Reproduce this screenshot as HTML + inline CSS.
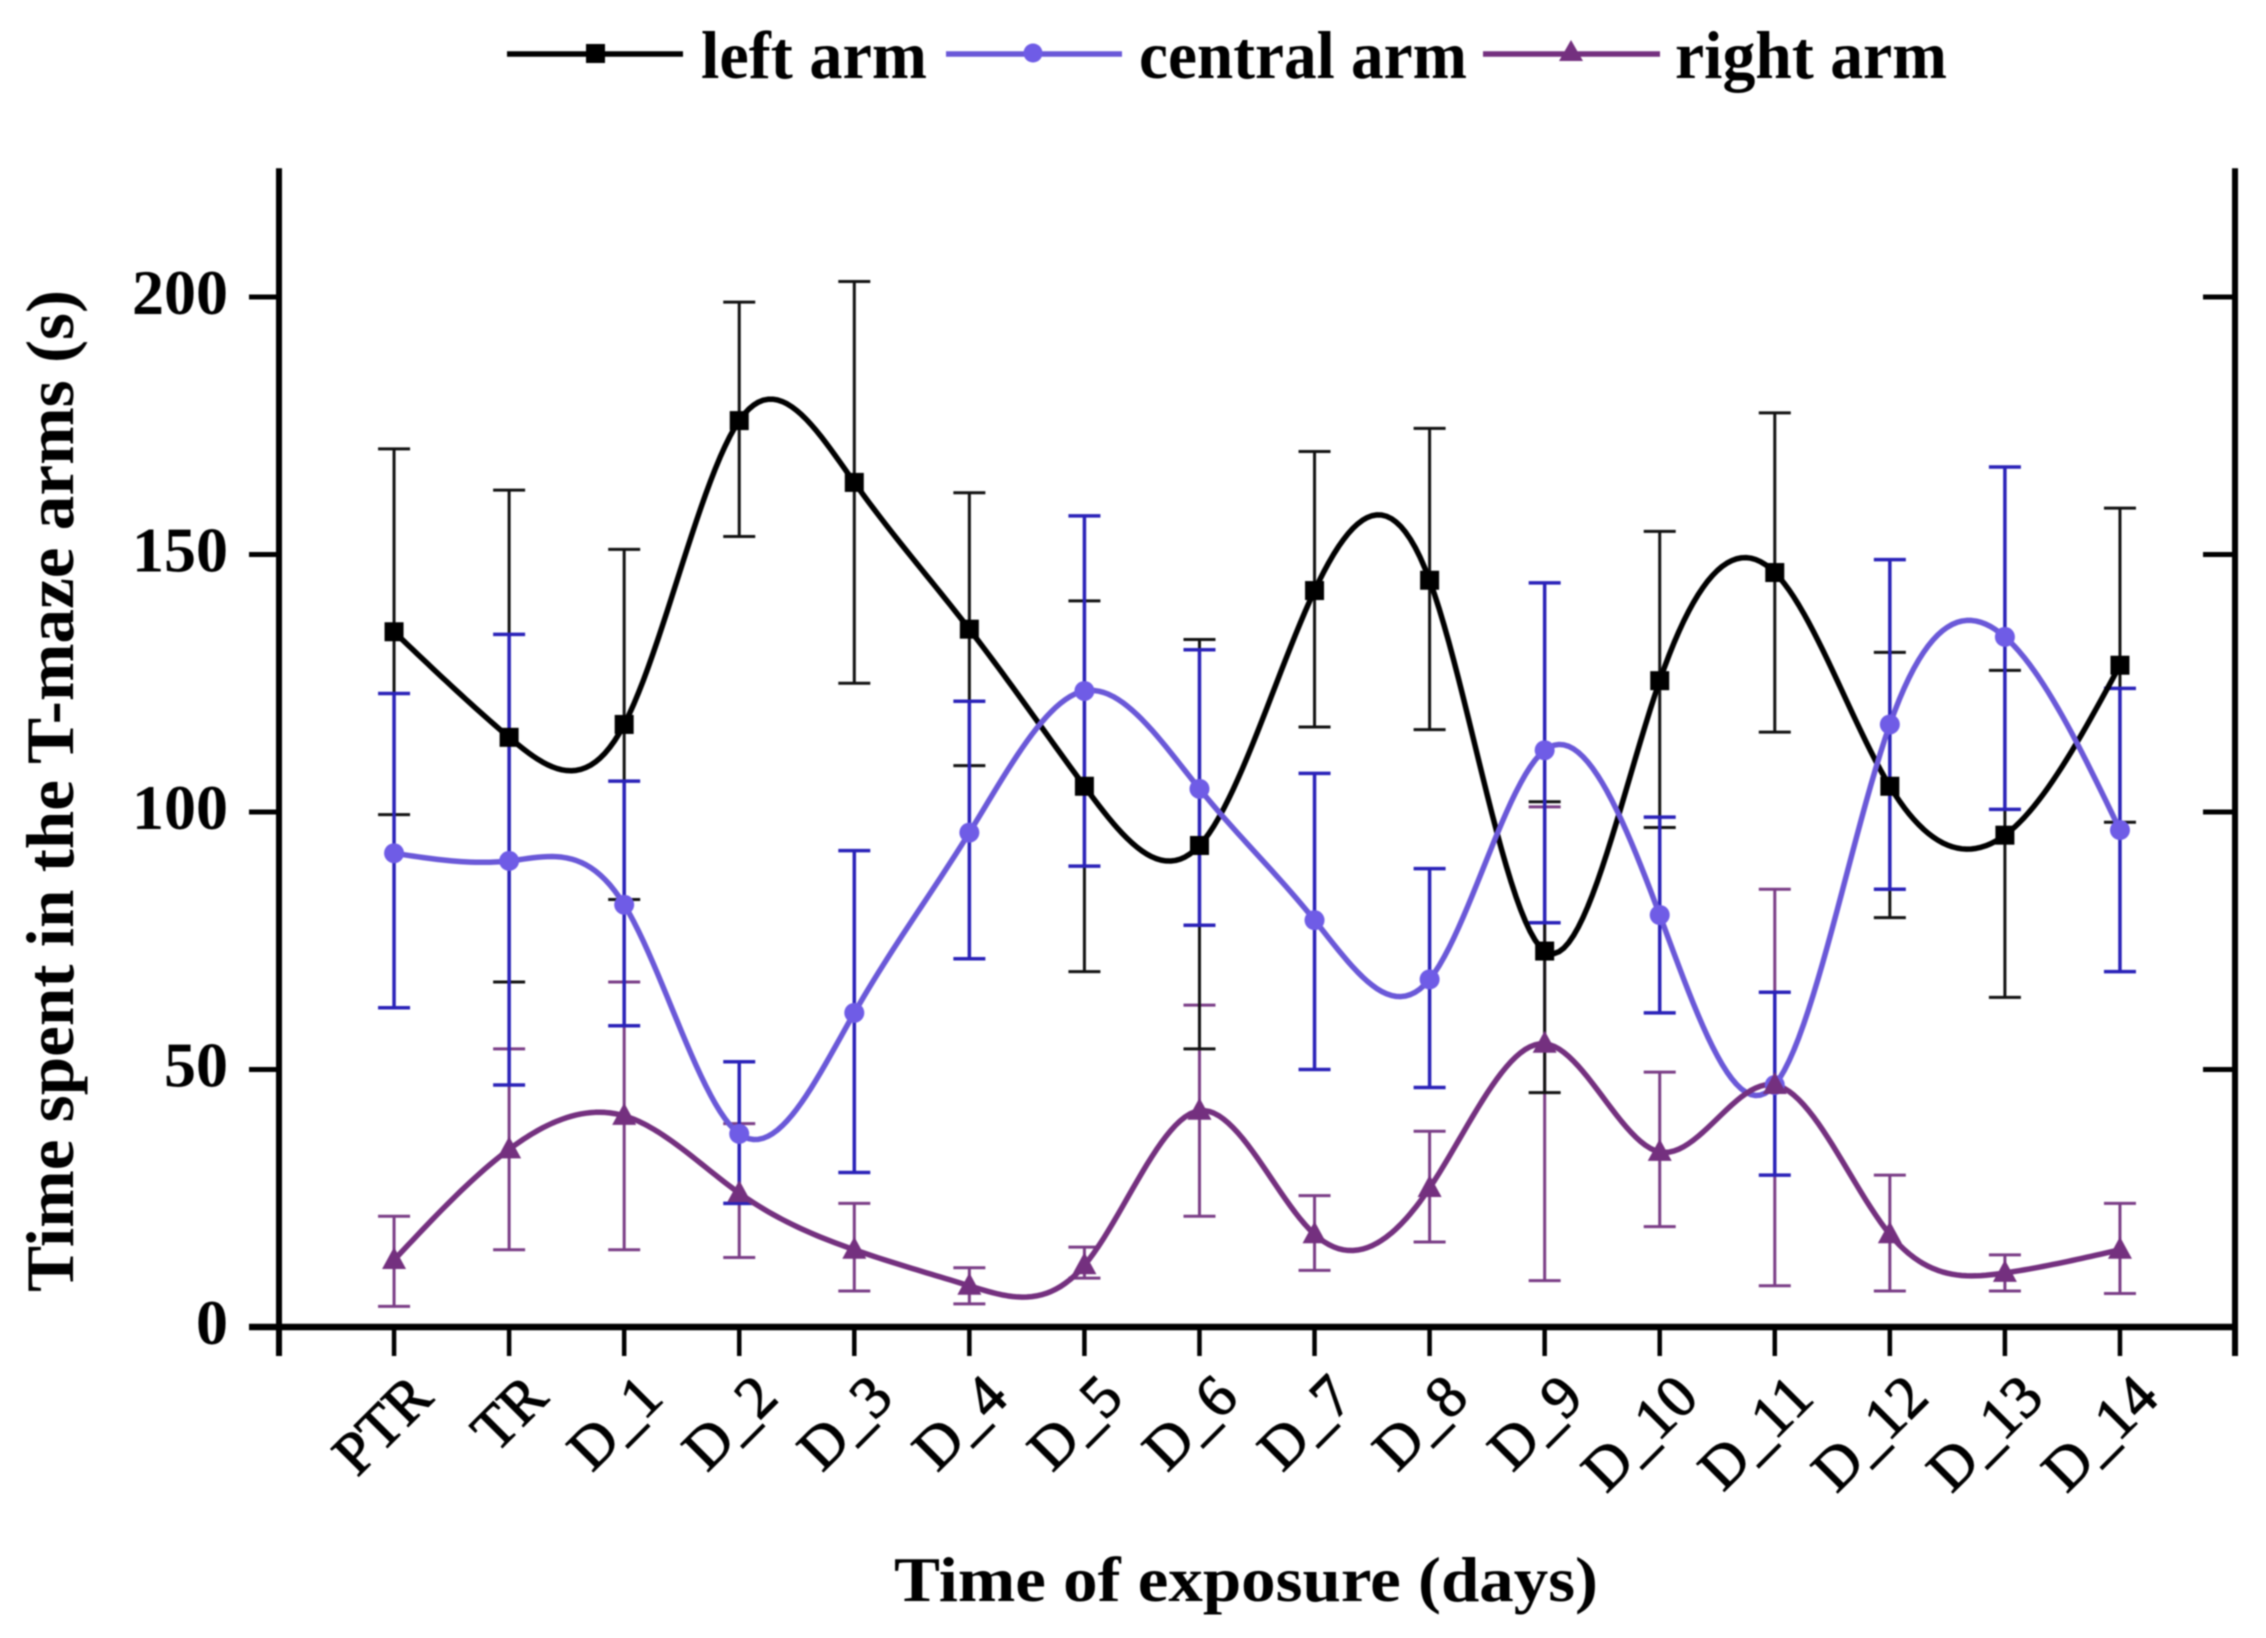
<!DOCTYPE html>
<html lang="en">
<head>
<meta charset="utf-8">
<title>Time spent in the T-maze arms</title>
<style>
html,body{margin:0;padding:0;background:#fff;}
svg{display:block;filter:blur(0.7px);}
text{font-family:"Liberation Serif","DejaVu Serif",serif;fill:#000;}
</style>
</head>
<body>
<svg id="chart" width="2266" height="1638" viewBox="0 0 2266 1638" xmlns="http://www.w3.org/2000/svg">
  <rect x="0" y="0" width="2266" height="1638" fill="#fff"/>
  <g id="plot"></g>
  <g id="axes"></g>

  <g>
    <g>
      <line x1="507" y1="54" x2="683" y2="54" stroke="#000" stroke-width="5.5"/>
      <rect x="586" y="44" width="19" height="19" fill="#000"/>
      <text x="701" y="78" font-size="68" font-weight="bold" textLength="226" lengthAdjust="spacingAndGlyphs">left arm</text>
    </g>
    <g>
      <line x1="946" y1="54" x2="1122" y2="54" stroke="#6a58d8" stroke-width="5.5"/>
      <circle cx="1033" cy="53" r="9.5" fill="#6f5ce6"/>
      <text x="1139" y="78" font-size="68" font-weight="bold" textLength="328" lengthAdjust="spacingAndGlyphs">central arm</text>
    </g>
    <g>
      <line x1="1483" y1="54" x2="1660" y2="54" stroke="#74307f" stroke-width="5.5"/>
      <polygon points="1571,40 1583,61 1559,61" fill="#74307f"/>
      <text x="1675" y="78" font-size="68" font-weight="bold" textLength="272" lengthAdjust="spacingAndGlyphs">right arm</text>
    </g>
  </g>

  <text transform="translate(73,1292) rotate(-90)" x="0" y="0" font-size="68" font-weight="bold" textLength="1002" lengthAdjust="spacingAndGlyphs">Time spent in the T-maze arms (s)</text>
  <text x="894" y="1601" font-size="64" font-weight="bold" textLength="704" lengthAdjust="spacingAndGlyphs">Time of exposure (days)</text>
</svg>

<script>
const categories = ['PTR','TR','D_1','D_2','D_3','D_4','D_5','D_6','D_7','D_8','D_9','D_10','D_11','D_12','D_13','D_14'];
const yTicks = [0,50,100,150,200];

const leftMean  = [135,114.5,117,176,164,135.5,105,93.5,143,145,73,125.5,146.5,105,95.5,128.5];
const leftUpper = [170.5,162.5,151,199,203,162,141,133.5,170,174.5,102,154.5,177.5,131,127.5,159];
const leftLower = [99.5,67,83,153.5,125,109,69,54,116.5,116,45.5,97,115.5,79.5,64,98];

const centralMean  = [92,90.5,82,37.5,61,96,123.5,104.5,79,67.5,112,80,47,117,134,96.5];
const centralUpper = [123,134.5,106,51.5,92.5,121.5,157.5,131.5,107.5,89,144.5,99,65,149,167,124];
const centralLower = [62,47,58.5,24,30,71.5,89.5,78,50,46.5,78.5,61,29.5,85,100.5,69];

const rightMean  = [13,34.5,41,26,15,8,12,42,18,27,55,34,47,18,10.5,15];
const rightUpper = [21.5,54,67,39.5,24,11.5,15.5,62.5,25.5,38,101,49.5,85,29.5,14,24];
const rightLower = [4,15,15,13.5,7,4.5,9.5,21.5,11,16.5,9,19.5,8,7,7,6.5];

const NS = 'http://www.w3.org/2000/svg';
const plot = document.getElementById('plot');
const axes = document.getElementById('axes');

const xPos = i => 279 + (i + 1) * 115.06;
const yPos = v => 1327 - v * 5.15;

function make(tag, attrs, parent) {
  const el = document.createElementNS(NS, tag);
  for (const k in attrs) el.setAttribute(k, attrs[k]);
  parent.appendChild(el);
  return el;
}

/* natural cubic spline through the mean values (evenly spaced categories) */
function splinePath(values) {
  const n = values.length;
  const c = new Array(n).fill(0), d = new Array(n).fill(0), m = new Array(n).fill(0);
  for (let i = 1; i < n - 1; i++) {
    const rhs = 6 * (values[i + 1] - 2 * values[i] + values[i - 1]);
    const w = 4 - c[i - 1];
    c[i] = 1 / w;
    d[i] = (rhs - d[i - 1]) / w;
  }
  for (let i = n - 2; i > 0; i--) m[i] = d[i] - c[i] * m[i + 1];
  let path = '';
  for (let i = 0; i < n - 1; i++) {
    for (let s = 0; s <= 24; s++) {
      if (s === 0 && i > 0) continue;
      const t = s / 24, u = 1 - t;
      const v = u * values[i] + t * values[i + 1] +
        ((u * u * u - u) * m[i] + (t * t * t - t) * m[i + 1]) / 6;
      path += (path ? 'L' : 'M') + xPos(i + t).toFixed(2) + ' ' + yPos(v).toFixed(2);
    }
  }
  return path;
}

function drawErrorBars(key, upper, lower, color, width) {
  const group = make('g', {}, plot);
  
  
  categories.forEach((cat, i) => {
    const bar = make('path', {
      d: 'M' + (xPos(i) - 16) + ' ' + yPos(upper[i]) + 'H' + (xPos(i) + 16) +
         'M' + xPos(i) + ' ' + yPos(upper[i]) + 'V' + yPos(lower[i]) +
         'M' + (xPos(i) - 16) + ' ' + yPos(lower[i]) + 'H' + (xPos(i) + 16),
      fill: 'none', stroke: color, 'stroke-width': width
    }, group);
    
    
  });
}

function drawLine(key, values, color) {
  const line = make('path', {
    d: splinePath(values), fill: 'none', stroke: color, 'stroke-width': 5.5, 'stroke-linejoin': 'round'
  }, plot);
  
  
}

function drawMarkers(key, values, color, shape) {
  const group = make('g', {}, plot);
  
  
  categories.forEach((cat, i) => {
    const x = xPos(i), y = yPos(values[i]);
    let mark;
    if (shape === 'square') {
      mark = make('rect', { x: x - 9.5, y: y - 9.5, width: 19, height: 19, fill: color }, group);
    } else if (shape === 'circle') {
      mark = make('circle', { cx: x, cy: y, r: 10, fill: color }, group);
    } else {
      mark = make('polygon', { points: x + ',' + (y - 13) + ' ' + (x + 12) + ',' + (y + 9) + ' ' + (x - 12) + ',' + (y + 9), fill: color }, group);
    }
    
    
  });
}

drawErrorBars('right-arm', rightUpper, rightLower, '#7a3d86', 3);
drawErrorBars('left-arm', leftUpper, leftLower, '#111', 3);
drawErrorBars('central-arm', centralUpper, centralLower, '#2a22b8', 3.5);
drawLine('left-arm', leftMean, '#000');
drawLine('central-arm', centralMean, '#6a58d8');
drawLine('right-arm', rightMean, '#74307f');
drawMarkers('left-arm', leftMean, '#000', 'square');
drawMarkers('central-arm', centralMean, '#6f5ce6', 'circle');
drawMarkers('right-arm', rightMean, '#74307f', 'triangle');

/* axes */
const xMin = xPos(-1), xMax = xPos(16), yZero = yPos(0), yTop = yPos(225);
const leftAxis = make('line', { x1: xMin, y1: yTop, x2: xMin, y2: yZero + 29, stroke: '#000', 'stroke-width': 6 }, axes);


const rightAxis = make('line', { x1: xMax, y1: yTop, x2: xMax, y2: yZero + 29, stroke: '#000', 'stroke-width': 6 }, axes);


const bottomAxis = make('line', { x1: xMin - 30, y1: yZero, x2: xMax + 2, y2: yZero, stroke: '#000', 'stroke-width': 6.5 }, axes);



yTicks.forEach(v => {
  const y = yPos(v);
  const tick = make('line', { x1: xMin - 30, y1: y, x2: xMin, y2: y, stroke: '#000', 'stroke-width': 5 }, axes);
  
  
  const rTick = make('line', { x1: xMax - 32, y1: y, x2: xMax, y2: y, stroke: '#000', 'stroke-width': 5 }, axes);
  
  
  const label = make('text', { x: 228, y: y + 17, 'font-size': 64, 'font-weight': 'bold', 'text-anchor': 'end' }, axes);
  
  
  label.textContent = String(v);
});

categories.forEach((cat, i) => {
  const x = xPos(i);
  const tick = make('line', { x1: x, y1: yZero, x2: x, y2: yZero + 29, stroke: '#000', 'stroke-width': 4.5 }, axes);
  
  
  const label = make('text', {
    transform: 'translate(' + (x + 41) + ',1400) rotate(-45)',
    x: 0, y: 0, 'font-size': 60, 'text-anchor': 'end', stroke: '#000', 'stroke-width': 1.1
  }, axes);
  
  
  label.textContent = cat;
});
</script>
</body>
</html>
